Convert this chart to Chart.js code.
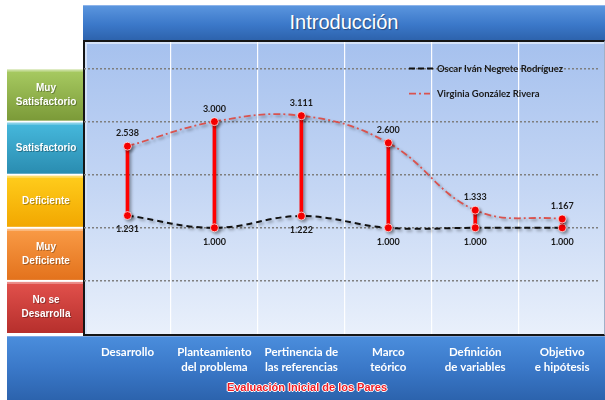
<!DOCTYPE html>
<html lang="es">
<head>
  <meta charset="UTF-8" />
  <title>Introducción</title>
  <script src="https://cdn.jsdelivr.net/npm/chart.js"></script>
  <style>
    html, body { margin: 0; padding: 0; }
    body { width: 605px; height: 400px; background: #fff; position: relative; overflow: hidden; font-family: Lato, sans-serif; }
    .titlebar {
      position: absolute; left: 83px; top: 5px; width: 522px; height: 34px;
      background: linear-gradient(#5a95de, #3b78c9 55%, #2d63ad);
      border-top: 1px solid #8db4ea; border-bottom: 2px solid #1f3f6e;
      color: #fff; font-family: "Liberation Sans Narrow", "Liberation Sans", sans-serif; font-size: 20px;
      text-align: center; line-height: 33px; text-shadow: 1px 1px 1px rgba(0,0,0,0.35);
    }
    .bottombar {
      position: absolute; left: 7px; top: 336px; width: 598px; height: 63px;
      background: linear-gradient(#4a8ddc, #3a78c8 50%, #2c63ad);
      border-top: 1px solid #7fa9e3;
    }
    .plotframe {
      position: absolute; left: 83px; top: 40px; width: 519px; height: 292px;
      border: 2px solid #151515; border-right: 1px solid #9fb0c8;
      background: linear-gradient(#a6c1ee, #c4d6f4 50%, #e9f0fb);
      box-shadow: inset 2px 2px 0 #d4e2f8;
    }
    .subtitle {
      position: absolute; left: 0; width: 614px; top: 381px; text-align: center;
      font-family: "Liberation Sans", Arial, sans-serif; font-weight: bold; font-size: 11px;
      color: #ee1c24;
      text-shadow: -1px 0 #fff, 1px 0 #fff, 0 -1px #fff, 0 1px #fff;
    }
    canvas { position: absolute; left: 0; top: 0; }
  </style>
</head>
<body>
  <div class="titlebar">Introducción</div>
  <div class="bottombar"></div>
  <div class="plotframe"></div>
  <canvas id="chart" width="605" height="400"></canvas>
  <div class="subtitle">Evaluación Inicial de los Pares</div>

  <script>
    const categories = [
      ['Desarrollo'],
      ['Planteamiento', 'del problema'],
      ['Pertinencia de', 'las referencias'],
      ['Marco', 'teórico'],
      ['Definición', 'de variables'],
      ['Objetivo', 'e hipótesis']
    ];
    const oscar = [1.231, 1.000, 1.222, 1.000, 1.000, 1.000];
    const virginia = [2.538, 3.000, 3.111, 2.600, 1.333, 1.167];
    const seriesNames = ['Oscar Iván Negrete Rodríguez', 'Virginia González Rivera'];
    const levels = [
      { lines: ['Muy', 'Satisfactorio'], from: 3, to: 4, top: '#a8cb62', bottom: '#7b9a38' },
      { lines: ['Satisfactorio'], from: 2, to: 3, top: '#46b9dd', bottom: '#2a8cb0' },
      { lines: ['Deficiente'], from: 1, to: 2, top: '#ffcd1c', bottom: '#f2a700' },
      { lines: ['Muy', 'Deficiente'], from: 0, to: 1, top: '#f99b46', bottom: '#e3721c' },
      { lines: ['No se', 'Desarrolla'], from: -1, to: 0, top: '#e2514c', bottom: '#b62f2c' }
    ];
    const yGrid = [0, 1, 2, 3, 4];

    const fmt = v => v.toFixed(3);

    // coloured level boxes to the left of the plot, placed with the y scale
    const levelBoxes = {
      id: 'levelBoxes',
      beforeDraw(chart) {
        const { ctx, scales: { y }, chartArea } = chart;
        levels.forEach(l => {
          const top = y.getPixelForValue(l.to) + 1;
          const bottom = Math.min(y.getPixelForValue(l.from), chartArea.bottom) - 1;
          const g = ctx.createLinearGradient(0, top, 0, bottom);
          g.addColorStop(0, l.top);
          g.addColorStop(1, l.bottom);
          ctx.save();
          ctx.fillStyle = g;
          ctx.fillRect(7, top, 76, bottom - top);
          ctx.fillStyle = 'rgba(255,255,255,0.35)';
          ctx.fillRect(7, top, 76, 2);
          ctx.font = 'bold 10px "Liberation Sans"';
          ctx.fillStyle = '#fff';
          ctx.textAlign = 'center';
          ctx.textBaseline = 'middle';
          ctx.shadowColor = 'rgba(0,0,0,0.3)';
          ctx.shadowOffsetX = 1; ctx.shadowOffsetY = 1;
          const mid = (top + bottom) / 2;
          l.lines.forEach((t, k) => {
            ctx.fillText(t, 46, mid + (k - (l.lines.length - 1) / 2) * 14);
          });
          ctx.restore();
        });
      }
    };

    const shadow = {
      id: 'shadow',
      beforeDatasetDraw(chart) {
        const c = chart.ctx;
        c.save();
        c.shadowColor = 'rgba(0,0,0,0.35)';
        c.shadowBlur = 3;
        c.shadowOffsetX = 2;
        c.shadowOffsetY = 2;
      },
      afterDatasetDraw(chart) { chart.ctx.restore(); }
    };

    const valueLabels = {
      id: 'valueLabels',
      afterDatasetsDraw(chart) {
        const { ctx } = chart;
        ctx.save();
        ctx.font = 'bold 9px Lato';
        ctx.fillStyle = '#1a1a1a';
        ctx.textAlign = 'center';
        ctx.textBaseline = 'middle';
        chart.getDatasetMeta(2).data.forEach((p, i) => ctx.fillText(fmt(virginia[i]), p.x, p.y - 13));
        chart.getDatasetMeta(1).data.forEach((p, i) => ctx.fillText(fmt(oscar[i]), p.x, p.y + 14));
        ctx.restore();
      }
    };

    const insideLegend = {
      id: 'insideLegend',
      afterDatasetsDraw(chart) {
        const { ctx, chartArea } = chart;
        const x0 = chartArea.right - 191;
        const items = [
          { y: chart.scales.y.getPixelForValue(4), color: '#111', dash: [6, 3], width: 2, len: 25, text: seriesNames[0] },
          { y: chart.scales.y.getPixelForValue(4) + 25, color: '#d9534f', dash: [7, 3, 2, 3], width: 1.8, len: 21, text: seriesNames[1] }
        ];
        ctx.save();
        items.forEach(it => {
          ctx.strokeStyle = it.color;
          ctx.lineWidth = it.width;
          ctx.setLineDash(it.dash);
          ctx.beginPath();
          ctx.moveTo(x0, it.y);
          ctx.lineTo(x0 + it.len, it.y);
          ctx.stroke();
          ctx.setLineDash([]);
          ctx.font = 'bold 9.5px Lato';
          ctx.fillStyle = '#1a1a1a';
          ctx.textBaseline = 'middle';
          ctx.fillText(it.text, x0 + 28, it.y);
        });
        ctx.restore();
      }
    };

    const idx = categories.map((c, i) => i);

    new Chart(document.getElementById('chart'), {
      type: 'line',
      data: {
        datasets: [
          {
            type: 'bar',
            data: idx.map(i => ({ x: i, y: [oscar[i], virginia[i]] })),
            backgroundColor: '#ff0000',
            barThickness: 3,
            order: 3
          },
          {
            data: idx.map(i => ({ x: i, y: oscar[i] })),
            borderColor: '#111',
            borderWidth: 2,
            borderDash: [6, 4],
            tension: 0.4,
            pointRadius: 4,
            pointBackgroundColor: '#ff0000',
            pointBorderColor: 'rgba(255,255,255,0.7)',
            pointBorderWidth: 1,
            order: 2
          },
          {
            data: idx.map(i => ({ x: i, y: virginia[i] })),
            borderColor: '#d9534f',
            borderWidth: 1.8,
            borderDash: [7, 3, 2, 3],
            tension: 0.4,
            pointRadius: 4,
            pointBackgroundColor: '#ff0000',
            pointBorderColor: 'rgba(255,255,255,0.7)',
            pointBorderWidth: 1,
            order: 1
          }
        ]
      },
      options: {
        responsive: false,
        animation: false,
        layout: { padding: { left: 84, top: 42, right: 2, bottom: 0 } },
        plugins: { legend: { display: false }, tooltip: { enabled: false } },
        scales: {
          x: {
            type: 'linear',
            offset: false,
            min: -0.5,
            max: 5.435,
            afterBuildTicks: a => { a.ticks = idx.map(i => ({ value: i })); },
            afterFit: s => { s.height = 66; s.paddingLeft = 0; s.paddingRight = 0; },
            grid: { display: false, drawTicks: false },
            border: { display: false },
            ticks: {
              color: '#fff',
              font: { family: 'Lato', weight: 'bold', size: 11.5, lineHeight: 1.3 },
              padding: 11,
              maxRotation: 0,
              autoSkip: false,
              callback: v => categories[v]
            }
          },
          x2: {
            type: 'linear',
            position: 'top',
            offset: false,
            min: -0.5,
            max: 5.435,
            afterBuildTicks: a => { a.ticks = idx.slice(0, 5).map(i => ({ value: i + 0.5 })); },
            afterFit: s => { s.height = 0; s.paddingLeft = 0; s.paddingRight = 0; },
            grid: { color: 'rgba(255,255,255,0.95)', lineWidth: 1.2, drawTicks: false },
            border: { display: false },
            ticks: { display: false }
          },
          y: {
            min: -1,
            max: 4.5,
            afterBuildTicks: a => { a.ticks = yGrid.map(v => ({ value: v })); },
            afterFit: s => { s.width = 0; },
            grid: { color: '#7f7f7f', lineWidth: 1.5, drawTicks: false },
            border: { display: false, dash: [2, 2] },
            ticks: { display: false }
          }
        }
      },
      plugins: [levelBoxes, shadow, valueLabels, insideLegend]
    });
  </script>
</body>
</html>
